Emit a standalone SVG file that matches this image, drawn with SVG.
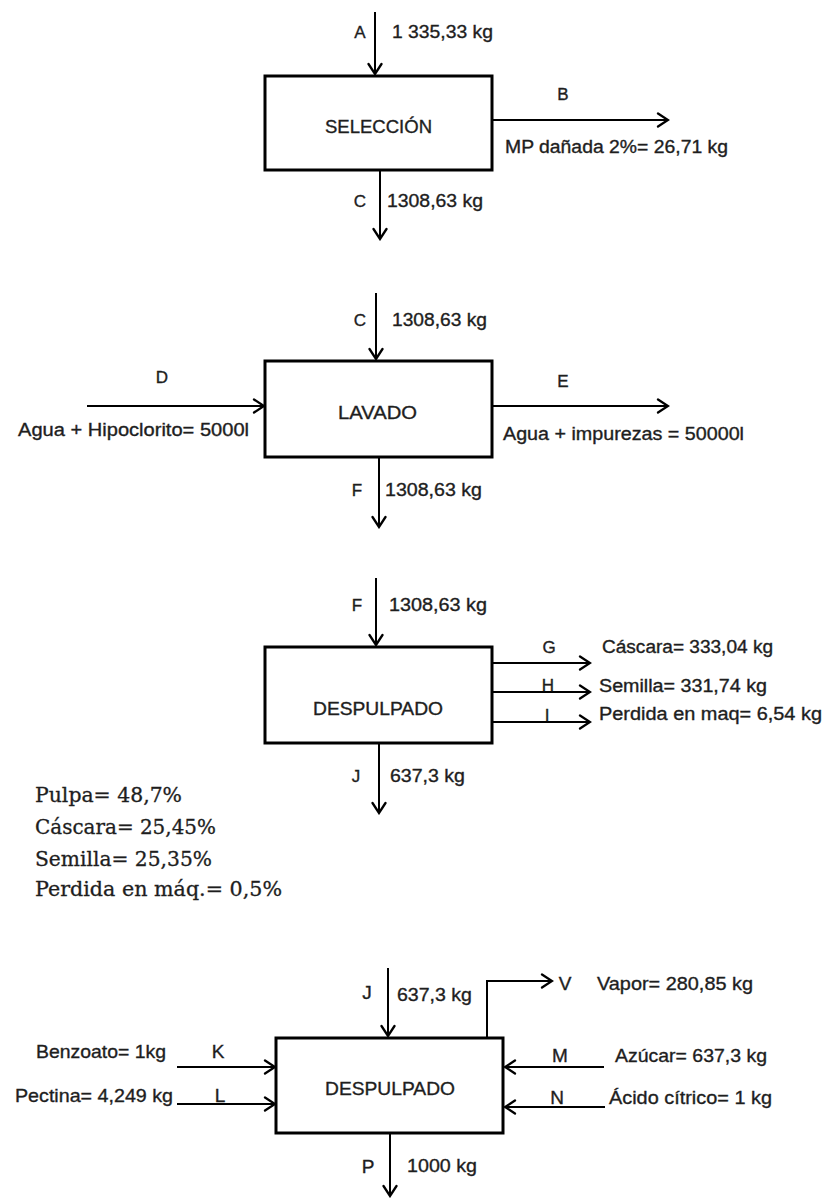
<svg xmlns="http://www.w3.org/2000/svg" width="826" height="1198" viewBox="0 0 826 1198">
  <style>
    .bg { fill: #ffffff; }
    .box { fill: #ffffff; stroke: #000000; stroke-width: 3; }
    .flow { fill: none; stroke: #000000; stroke-width: 2; marker-end: url(#head); }
    .lbl { font-family: "Liberation Sans", Arial, sans-serif; font-size: 18px; fill: #1e1e1e; stroke: #1e1e1e; stroke-width: 0.35px; }
    .sm { font-size: 17px; }
    .big { font-size: 19px; }
    .mid { text-anchor: middle; }
    .note { font-family: "DejaVu Serif", "Liberation Serif", serif; font-size: 19.5px; fill: #1e1e1e; stroke: #1e1e1e; stroke-width: 0.3px; }
  </style>
  <defs>
    <!-- open chevron arrowhead -->
    <marker id="head" markerUnits="userSpaceOnUse" viewBox="0 0 14 16" markerWidth="14" markerHeight="16" refX="12" refY="8" orient="auto">
      <path d="M2,1.5 L12,8 L2,14.5" fill="none" stroke="#000000" stroke-width="2.3" stroke-linecap="round"/>
    </marker>
  </defs>

  <rect class="bg" x="0" y="0" width="826" height="1198"/>

  <!-- flow connectors -->
  <g id="connectors">
    <!-- Selección -->
    <line class="flow" x1="375" y1="12" x2="375" y2="74"/>
    <line class="flow" x1="492" y1="120" x2="668" y2="120"/>
    <line class="flow" x1="380" y1="170" x2="380" y2="239"/>
    <!-- Lavado -->
    <line class="flow" x1="376" y1="293" x2="376" y2="359"/>
    <line class="flow" x1="87" y1="406" x2="264" y2="406"/>
    <line class="flow" x1="492" y1="406" x2="668" y2="406"/>
    <line class="flow" x1="379" y1="457" x2="379" y2="527"/>
    <!-- Despulpado -->
    <line class="flow" x1="376" y1="578" x2="376" y2="645"/>
    <line class="flow" x1="492" y1="663" x2="590" y2="663"/>
    <line class="flow" x1="492" y1="692" x2="590" y2="692"/>
    <line class="flow" x1="492" y1="722" x2="590" y2="722"/>
    <line class="flow" x1="379" y1="743" x2="379" y2="813"/>
    <!-- second Despulpado -->
    <line class="flow" x1="388" y1="968" x2="388" y2="1036"/>
    <polyline class="flow" points="487,1038 487,981 552,981"/>
    <line class="flow" x1="177" y1="1067" x2="275" y2="1067"/>
    <line class="flow" x1="177" y1="1104" x2="275" y2="1104"/>
    <line class="flow" x1="604" y1="1067" x2="505" y2="1067"/>
    <line class="flow" x1="605" y1="1107" x2="505" y2="1107"/>
    <line class="flow" x1="390" y1="1133" x2="390" y2="1196"/>
  </g>

  <!-- stream labels -->
  <g id="stream-labels">
    <text class="lbl sm mid" x="360" y="38">A</text>
    <text class="lbl" x="392" y="38" textLength="101" lengthAdjust="spacingAndGlyphs">1 335,33 kg</text>
    <text class="lbl sm mid" x="563" y="100">B</text>
    <text class="lbl" x="505" y="153" textLength="223" lengthAdjust="spacingAndGlyphs">MP dañada 2%= 26,71 kg</text>
    <text class="lbl sm mid" x="360" y="207">C</text>
    <text class="lbl" x="387" y="207" textLength="96" lengthAdjust="spacingAndGlyphs">1308,63 kg</text>

    <text class="lbl sm mid" x="360" y="326">C</text>
    <text class="lbl" x="392" y="326" textLength="95" lengthAdjust="spacingAndGlyphs">1308,63 kg</text>
    <text class="lbl sm mid" x="162" y="383">D</text>
    <text class="lbl" x="18" y="436" textLength="231" lengthAdjust="spacingAndGlyphs">Agua + Hipoclorito= 5000l</text>
    <text class="lbl sm mid" x="563" y="387">E</text>
    <text class="lbl" x="503" y="440" textLength="241" lengthAdjust="spacingAndGlyphs">Agua + impurezas = 50000l</text>
    <text class="lbl sm mid" x="357" y="496">F</text>
    <text class="lbl" x="385" y="496" textLength="97" lengthAdjust="spacingAndGlyphs">1308,63 kg</text>

    <text class="lbl sm mid" x="357" y="611">F</text>
    <text class="lbl" x="389" y="611" textLength="98" lengthAdjust="spacingAndGlyphs">1308,63 kg</text>
    <text class="lbl sm mid" x="549" y="653">G</text>
    <text class="lbl" x="602" y="653" textLength="171" lengthAdjust="spacingAndGlyphs">Cáscara= 333,04 kg</text>
    <text class="lbl sm mid" x="548" y="691">H</text>
    <text class="lbl" x="599" y="692" textLength="168" lengthAdjust="spacingAndGlyphs">Semilla= 331,74 kg</text>
    <text class="lbl sm mid" x="547" y="721">I</text>
    <text class="lbl" x="599" y="720" textLength="223" lengthAdjust="spacingAndGlyphs">Perdida en maq= 6,54 kg</text>
    <text class="lbl sm mid" x="356" y="782">J</text>
    <text class="lbl" x="390" y="782" textLength="75" lengthAdjust="spacingAndGlyphs">637,3 kg</text>

    <text class="lbl big mid" x="367" y="999">J</text>
    <text class="lbl big" x="397" y="1001" textLength="75" lengthAdjust="spacingAndGlyphs">637,3 kg</text>
    <text class="lbl big mid" x="565" y="990">V</text>
    <text class="lbl big" x="597" y="990" textLength="156" lengthAdjust="spacingAndGlyphs">Vapor= 280,85 kg</text>
    <text class="lbl big" x="36" y="1058" textLength="130" lengthAdjust="spacingAndGlyphs">Benzoato= 1kg</text>
    <text class="lbl big mid" x="218" y="1058">K</text>
    <text class="lbl big" x="15" y="1102" textLength="158" lengthAdjust="spacingAndGlyphs">Pectina= 4,249 kg</text>
    <text class="lbl big mid" x="220" y="1102">L</text>
    <text class="lbl big mid" x="560" y="1062">M</text>
    <text class="lbl big" x="615" y="1062" textLength="152" lengthAdjust="spacingAndGlyphs">Azúcar= 637,3 kg</text>
    <text class="lbl big mid" x="557" y="1104">N</text>
    <text class="lbl big" x="609" y="1104" textLength="163" lengthAdjust="spacingAndGlyphs">Ácido cítrico= 1 kg</text>
    <text class="lbl big mid" x="368" y="1173">P</text>
    <text class="lbl big" x="407" y="1172" textLength="70" lengthAdjust="spacingAndGlyphs">1000 kg</text>
  </g>

  <!-- process units -->
  <g id="seleccion">
    <rect class="box" x="265" y="76" width="227" height="94"/>
    <text class="lbl" x="325" y="133" textLength="107" lengthAdjust="spacingAndGlyphs">SELECCIÓN</text>
  </g>
  <g id="lavado">
    <rect class="box" x="265" y="361" width="227" height="96"/>
    <text class="lbl" x="338" y="419" textLength="79" lengthAdjust="spacingAndGlyphs">LAVADO</text>
  </g>
  <g id="despulpado-1">
    <rect class="box" x="265" y="647" width="227" height="96"/>
    <text class="lbl" x="313" y="715" textLength="130" lengthAdjust="spacingAndGlyphs">DESPULPADO</text>
  </g>
  <g id="despulpado-2">
    <rect class="box" x="276" y="1038" width="227" height="95"/>
    <text class="lbl big" x="325" y="1095" textLength="130" lengthAdjust="spacingAndGlyphs">DESPULPADO</text>
  </g>

  <!-- fruit composition -->
  <g id="composicion">
    <text class="note" x="35" y="802" textLength="147" lengthAdjust="spacingAndGlyphs">Pulpa= 48,7%</text>
    <text class="note" x="35" y="834" textLength="181" lengthAdjust="spacingAndGlyphs">Cáscara= 25,45%</text>
    <text class="note" x="35" y="866" textLength="177" lengthAdjust="spacingAndGlyphs">Semilla= 25,35%</text>
    <text class="note" x="35" y="896" textLength="247" lengthAdjust="spacingAndGlyphs">Perdida en máq.= 0,5%</text>
  </g>
</svg>
